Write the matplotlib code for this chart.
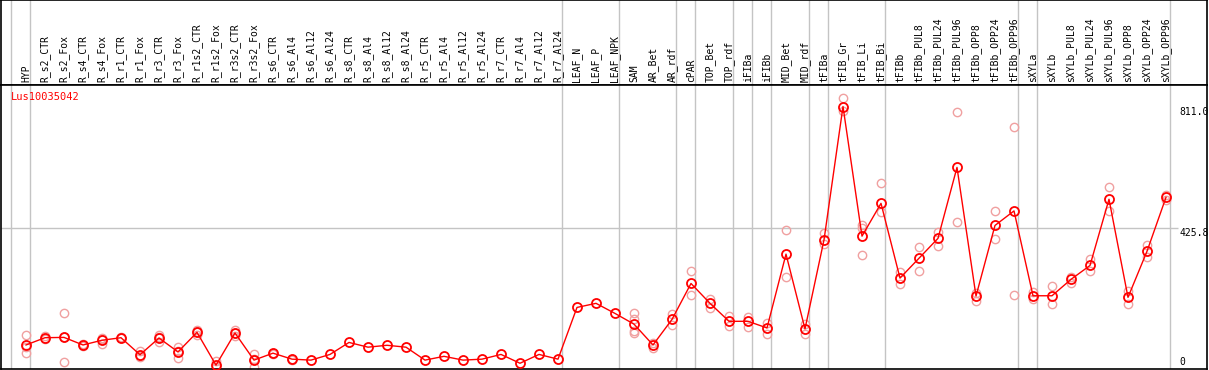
import matplotlib
matplotlib.use("Agg")
import matplotlib.pyplot as plt

gene = "Lus10035042"

samples = ["HYP", "R_s2_CTR", "R_s2_Fox", "R_s4_CTR", "R_s4_Fox", "R_r1_CTR",
           "R_r1_Fox", "R_r3_CTR", "R_r3_Fox", "R_r1s2_CTR", "R_r1s2_Fox",
           "R_r3s2_CTR", "R_r3s2_Fox", "R_s6_CTR", "R_s6_Al4", "R_s6_Al12",
           "R_s6_Al24", "R_s8_CTR", "R_s8_Al4", "R_s8_Al12", "R_s8_Al24",
           "R_r5_CTR", "R_r5_Al4", "R_r5_Al12", "R_r5_Al24", "R_r7_CTR",
           "R_r7_Al4", "R_r7_Al12", "R_r7_Al24", "LEAF_N", "LEAF_P", "LEAF_NPK",
           "SAM", "AR_Bet", "AR_rdf", "cPAR", "TOP_Bet", "TOP_rdf", "iFIBa",
           "iFIBb", "MID_Bet", "MID_rdf", "tFIBa", "tFIB_Gr", "tFIB_Li",
           "tFIB_Bi", "tFIBb", "tFIBb_PUL8", "tFIBb_PUL24", "tFIBb_PUL96",
           "tFIBb_OPP8", "tFIBb_OPP24", "tFIBb_OPP96", "sXYLa", "sXYLb",
           "sXYLb_PUL8", "sXYLb_PUL24", "sXYLb_PUL96", "sXYLb_OPP8",
           "sXYLb_OPP24", "sXYLb_OPP96"]

means = [55, 78, 79, 55, 70, 78, 24, 77, 33, 95,
         -9, 93, 7, 29, 10, 7, 25, 63, 48, 54,
         48, 7, 19, 7, 10, 25, -3, 25, 10, 174,
         187, 155, 121, 55, 136, 250, 187, 130, 130, 109,
         343, 106, 388, 811, 400, 504, 267, 330, 393, 618,
         210, 434, 480, 211, 211, 263, 307, 517, 206, 352, 523]

reps = [[87, 29, 50], [83, 73], [155, 1, 80], [57, 53], [77, 58, 75],
        [80, 76], [37, 16, 20], [87, 64, 80], [49, 14, 36], [102, 87, 96],
        [3, -15, -15], [102, 83, 94], [26, -16, 10], [31, 27], [12, 8],
        [], [], [], [], [], [], [], [], [], [], [], [], [], [], [], [], [],
        [155, 136, 100, 92], [62, 46], [153, 118], [289, 214], [201, 172],
        [148, 115], [145, 113], [126, 89], [418, 269], [120, 89], [411, 375],
        [838, 798], [435, 425, 340], [567, 476], [285, 248], [365, 290],
        [412, 370], [793, 444], [221, 195], [480, 390], [747, 213],
        [224, 201], [242, 184], [271, 252], [327, 290], [555, 480],
        [226, 185], [372, 335], [532, 514]]

# index of last sample in each group (grey separator just after it)
group_ends = [-1, 0, 28, 31, 34, 35, 37, 38, 39, 41, 42, 45, 52, 53, 60]

y_top = 811.0
y_mid = 425.8

W, H = 1209, 370
fig = plt.figure(figsize=(W / 100, H / 100), dpi=100)
mono = "DejaVu Sans Mono"
grey = "#c4c4c4"

xlim = ((1 - 26) / 19, (1207 - 26) / 19)
ylim = (-21.2, 879.2)

hdr = fig.add_axes([1 / W, (H - 85) / H, 1206 / W, 85 / H])
ax = fig.add_axes([1 / W, (H - 369) / H, 1206 / W, 284 / H])

for a in (hdr, ax):
    a.set_xlim(*xlim)
    a.set_xticks([])
    a.set_yticks([])
    for s in a.spines.values():
        s.set_color("black")
        s.set_linewidth(1.2)
    for g in group_ends:
        a.axvline(g + 0.21, color=grey, lw=1, zorder=0)

hdr.set_ylim(0, 1)
for i, name in enumerate(samples):
    hdr.text(i, 0.03, name, rotation=90, ha="center", va="bottom",
             family=mono, fontsize=7)

ax.set_ylim(*ylim)
ax.hlines(y_mid, xlim[0], (1178 - 26) / 19, color=grey, lw=1, zorder=0)

for i, r in enumerate(reps):
    ax.plot([i] * len(r), r, "o", ms=6, mfc="none", mec="#f0a0a0",
            mew=1.0, zorder=2)
x = list(range(len(samples)))
ax.plot(x, means, "-", color="red", lw=1.0, zorder=3)
ax.plot(x, means, "o", ms=6.5, mfc="none", mec="red", mew=1.3, zorder=4)

ax.text(10 / 1206, (369 - 97) / 284, gene, transform=ax.transAxes,
        color="red", family=mono, fontsize=7.5, va="center", ha="left")
lx = (1179 - 26) / 19
ax.text(lx, y_top, "%.1f" % y_top, family=mono, fontsize=7, va="top", ha="left")
ax.text(lx, y_mid, "%.1f" % y_mid, family=mono, fontsize=7, va="top", ha="left")
ax.text(lx, 0, "0", family=mono, fontsize=7, va="center", ha="left")

fig.savefig("out.png", dpi=100)
